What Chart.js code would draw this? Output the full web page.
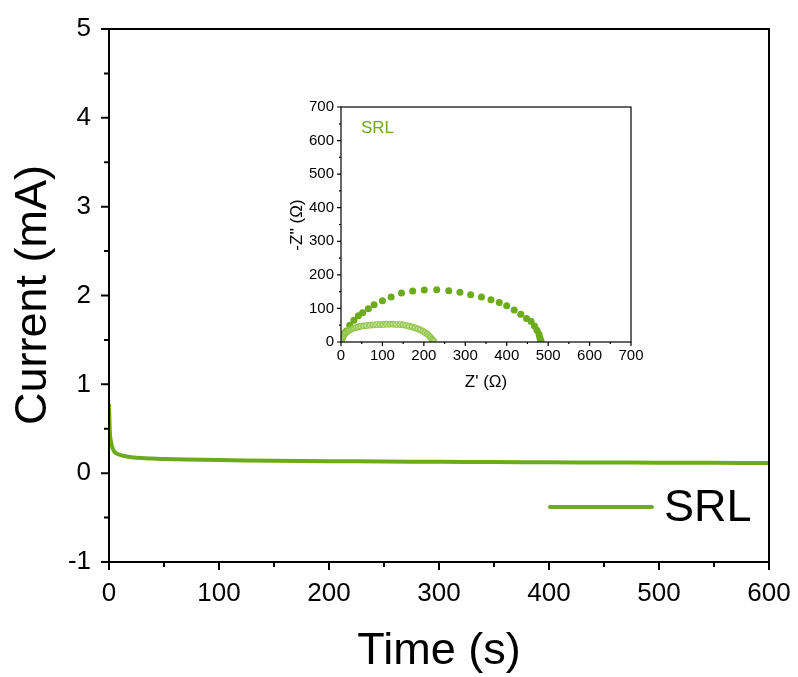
<!DOCTYPE html>
<html>
<head>
<meta charset="utf-8">
<script src="https://cdn.jsdelivr.net/npm/chart.js@4.4.0/dist/chart.umd.min.js"></script>
<style>
  html, body { margin: 0; padding: 0; background: #fff; }
  #wrap { position: relative; width: 798px; height: 677px; }
  #mainChart { position: absolute; left: 0; top: 0; }
  #insetChart { position: absolute; left: 280px; top: 90px; }
</style>
</head>
<body>
<div id="wrap">
  <canvas id="mainChart" width="798" height="677"></canvas>
  <canvas id="insetChart" width="370" height="310"></canvas>
</div>
<script>
// ==================== DATA ====================
const timeS = [0, 0.5, 1, 2, 3, 4, 5, 7, 10, 15, 20, 30, 40, 50, 70, 100, 150, 200, 250, 300, 350, 400, 450, 500, 550, 600];
const currentMA = [0.78, 0.55, 0.42, 0.34, 0.29, 0.26, 0.24, 0.22, 0.205, 0.19, 0.18, 0.17, 0.165, 0.16, 0.155, 0.147, 0.14, 0.135, 0.131, 0.128, 0.125, 0.122, 0.12, 0.118, 0.116, 0.114];
const xTicksMain = [0, 100, 200, 300, 400, 500, 600];
const yTicksMain = [-1, 0, 1, 2, 3, 4, 5];

// EIS (inset): big semicircle, filled dots
const bigZre = [0, 1, 2, 4, 6, 9, 13, 21, 31, 42, 52, 66, 80, 100, 121, 146, 173, 201, 231, 260, 287, 313, 339, 362, 382, 400, 418, 434, 448, 459, 467, 473, 478, 480, 482, 483];
const bigZim = [0, 5, 10, 15, 21, 27, 33, 50, 65, 78, 87, 99, 111, 123, 134, 146, 152, 155, 156, 153, 148, 141, 134, 126, 118, 108, 95, 83, 70, 61, 48, 35, 23, 13, 5, 0];
// EIS (inset): small semicircle, open circles
const smallZre = [0, 2, 4, 6, 9, 12, 16, 20, 25, 30, 36, 42, 48, 55, 62, 70, 78, 86, 94, 102, 110, 118, 126, 134, 142, 150, 158, 165, 172, 179, 186, 192, 198, 203, 208, 212, 216, 219, 222, 224];
const smallZim = [0, 8, 14, 19, 24, 28, 32, 35, 38, 41, 43, 45, 47, 48, 49, 50, 51, 52, 52, 52, 53, 53, 53, 52, 52, 51, 49, 47, 45, 42, 39, 36, 32, 28, 24, 19, 14, 9, 5, 1];
const insetTicks = [0, 100, 200, 300, 400, 500, 600, 700];

const GREEN = '#6cab1b';
const FONT = "'Liberation Sans', Arial, sans-serif";

// fixed scale box, no label overflow padding
function fixBox(prop, size) {
    return s => {
        s[prop] = size;
        s.paddingTop = s.paddingBottom = s.paddingLeft = s.paddingRight = 0;
    };
}

// ticks + frame drawn from the library scales
function frameTicksPlugin(opts) {
    return {
        id: 'frameTicks',
        afterDraw(chart) {
            const { ctx, chartArea: a, scales } = chart;
            ctx.save();
            ctx.strokeStyle = '#000';
            ctx.lineWidth = opts.lw;
            ctx.strokeRect(a.left, a.top, a.right - a.left, a.bottom - a.top);
            const xs = scales.x, ys = scales.y;
            ctx.beginPath();
            for (let v = xs.min; v <= xs.max + 1e-9; v += opts.xMinor) {
                const px = xs.getPixelForValue(v);
                const major = Math.abs(v / opts.xMajor - Math.round(v / opts.xMajor)) < 1e-6;
                const len = major ? opts.major : opts.minor;
                ctx.moveTo(px, a.bottom);
                ctx.lineTo(px, a.bottom + len);
            }
            for (let v = ys.min; v <= ys.max + 1e-9; v += opts.yMinor) {
                const py = ys.getPixelForValue(v);
                const major = Math.abs(v / opts.yMajor - Math.round(v / opts.yMajor)) < 1e-6;
                const len = major ? opts.major : opts.minor;
                ctx.moveTo(a.left, py);
                ctx.lineTo(a.left - len, py);
            }
            ctx.stroke();
            if (opts.extra) opts.extra(ctx, a);
            ctx.restore();
        }
    };
}

// ==================== MAIN CHART ====================
new Chart(document.getElementById('mainChart').getContext('2d'), {
    type: 'line',
    data: {
        datasets: [{
            label: 'SRL',
            data: timeS.map((t, i) => ({ x: t, y: currentMA[i] })),
            borderColor: GREEN,
            borderWidth: 4,
            pointRadius: 0,
            tension: 0.3,
            fill: false
        }]
    },
    options: {
        responsive: false,
        animation: false,
        layout: { padding: { left: 0, top: 29, right: 29, bottom: 0 } },
        plugins: { legend: { display: false }, tooltip: { enabled: false } },
        scales: {
            x: {
                type: 'linear', min: 0, max: 600,
                afterFit: fixBox('height', 115),
                afterBuildTicks: s => { s.ticks = xTicksMain.map(v => ({ value: v })); },
                grid: { display: false, drawTicks: false },
                border: { display: false },
                ticks: { color: '#000', font: { family: FONT, size: 26 }, padding: 16, maxRotation: 0 }
            },
            y: {
                type: 'linear', min: -1, max: 5,
                afterFit: fixBox('width', 109),
                afterBuildTicks: s => { s.ticks = yTicksMain.map(v => ({ value: v })); },
                grid: { display: false, drawTicks: false },
                border: { display: false },
                ticks: { color: '#000', font: { family: FONT, size: 26 }, padding: 18 }
            }
        }
    },
    plugins: [frameTicksPlugin({
        lw: 2, major: 8, minor: 5, xMajor: 100, xMinor: 50, yMajor: 1, yMinor: 0.5,
        extra(ctx, a) {
            ctx.fillStyle = '#000';
            ctx.font = '45px ' + FONT;
            ctx.textAlign = 'center';
            ctx.textBaseline = 'middle';
            ctx.fillText('Time (s)', 439, 652);
            ctx.save();
            ctx.translate(34, 295);
            ctx.rotate(-Math.PI / 2);
            ctx.fillText('Current (mA)', 0, 0);
            ctx.restore();
            // legend
            ctx.strokeStyle = GREEN;
            ctx.lineWidth = 4;
            ctx.lineCap = 'round';
            ctx.beginPath();
            ctx.moveTo(550, 507);
            ctx.lineTo(652, 507);
            ctx.stroke();
            ctx.textAlign = 'left';
            ctx.fillText('SRL', 664, 509);
        }
    })]
});

// ==================== INSET (EIS) ====================
new Chart(document.getElementById('insetChart').getContext('2d'), {
    type: 'scatter',
    data: {
        datasets: [{
            label: 'small',
            data: smallZre.map((x, i) => ({ x: x, y: smallZim[i] })),
            pointRadius: 3,
            pointBorderWidth: 1,
            pointBorderColor: '#8cc23f',
            pointBackgroundColor: 'rgba(175,215,120,0.5)'
        }, {
            label: 'big',
            data: bigZre.map((x, i) => ({ x: x, y: bigZim[i] })),
            pointRadius: 3.5,
            pointBorderWidth: 0,
            pointBackgroundColor: GREEN
        }]
    },
    options: {
        responsive: false,
        animation: false,
        layout: { padding: { left: 0, top: 17, right: 19, bottom: 0 } },
        plugins: { legend: { display: false }, tooltip: { enabled: false } },
        scales: {
            x: {
                type: 'linear', min: 0, max: 700,
                afterFit: fixBox('height', 58),
                afterBuildTicks: s => { s.ticks = insetTicks.map(v => ({ value: v })); },
                grid: { display: false, drawTicks: false },
                border: { display: false },
                ticks: { color: '#000', font: { family: FONT, size: 15 }, padding: 5, maxRotation: 0 }
            },
            y: {
                type: 'linear', min: 0, max: 700,
                afterFit: fixBox('width', 61),
                afterBuildTicks: s => { s.ticks = insetTicks.map(v => ({ value: v })); },
                grid: { display: false, drawTicks: false },
                border: { display: false },
                ticks: { color: '#000', font: { family: FONT, size: 15 }, padding: 7 }
            }
        }
    },
    plugins: [{
        id: 'insetBg',
        beforeDraw(chart) {
            const { ctx, chartArea: a } = chart;
            ctx.save();
            ctx.fillStyle = '#fff';
            ctx.fillRect(a.left, a.top, a.right - a.left, a.bottom - a.top);
            ctx.restore();
        }
    }, frameTicksPlugin({
        lw: 1.2, major: 4, minor: 2, xMajor: 100, xMinor: 50, yMajor: 100, yMinor: 50,
        extra(ctx, a) {
            ctx.fillStyle = '#000';
            ctx.font = '17px ' + FONT;
            ctx.textAlign = 'center';
            ctx.textBaseline = 'middle';
            ctx.fillText("Z' (\u03A9)", 206, 292);
            ctx.save();
            ctx.translate(17, 135);
            ctx.rotate(-Math.PI / 2);
            ctx.fillText("-Z'' (\u03A9)", 0, 0);
            ctx.restore();
            ctx.fillStyle = GREEN;
            ctx.textAlign = 'left';
            ctx.fillText('SRL', 81, 38);
        }
    })]
});
</script>
</body>
</html>
